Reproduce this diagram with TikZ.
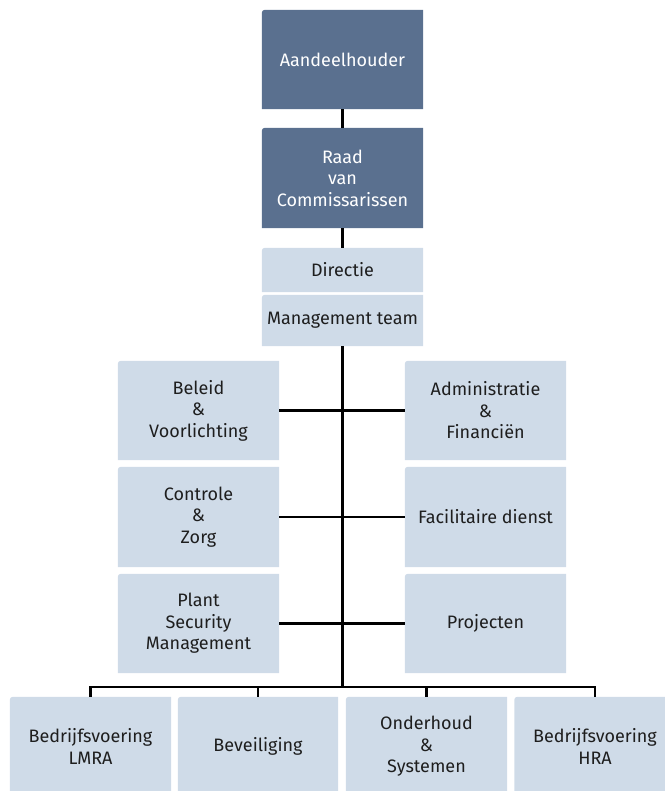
\documentclass[tikz,border=0pt]{standalone}
\usepackage{fontspec}
\setmainfont{Fira Sans}
\usetikzlibrary{backgrounds}
\definecolor{darkbox}{RGB}{90,112,143}
\definecolor{lightbox}{RGB}{207,219,232}
\definecolor{boxtext}{RGB}{30,30,30}

\begin{document}
\begin{tikzpicture}[x=1pt, y=-1pt,
    box/.style={minimum width=161pt, minimum height=99pt, inner sep=0pt, align=center, text=boxtext, font=\fontsize{18}{21.5}\selectfont},
    dark/.style={box, text=white},
    line/.style={line width=2.5pt}]
    \useasboundingbox (0,0) rectangle (664,791);
    \node (aandeel) at (342.5,59.5) [dark] {Aandeelhouder};
    \node (raad) at (342.5,178) [dark, minimum height=100pt] {Raad\\van\\Commissarissen};
    \node (directie) at (342.5,270) [box, minimum height=44pt] {Directie};
    \node (mt) at (342.5,320.5) [box, minimum height=51pt] {Management team};
    \node (beleid) at (198.5,410.5) [box] {Beleid\\\&\\Voorlichting};
    \node (admin) at (485.5,410.5) [box] {Administratie\\\&\\Financiën};
    \node (controle) at (198.5,517) [box, minimum height=100pt] {Controle\\\&\\Zorg};
    \node (facil) at (485.5,517) [box, minimum height=100pt] {Facilitaire dienst};
    \node (plant) at (198.5,623.5) [box] {Plant\\Security\\Management};
    \node (projecten) at (485.5,623.5) [box] {Projecten};
    \node (lmra) at (90.5,746.5) [box] {Bedrijfsvoering\\LMRA};
    \node (beveil) at (258,746.5) [box, minimum width=160pt] {Beveiliging};
    \node (onderhoud) at (426.5,746.5) [box] {Onderhoud\\\&\\Systemen};
    \node (hra) at (595,746.5) [box] {Bedrijfsvoering\\HRA};
    \coordinate (bus) at (342.5,687);
    \begin{scope}[on background layer]
    \foreach \n/\c in {aandeel/darkbox, raad/darkbox, directie/lightbox, mt/lightbox,
        beleid/lightbox, admin/lightbox, controle/lightbox, facil/lightbox, plant/lightbox,
        projecten/lightbox, lmra/lightbox, beveil/lightbox, onderhoud/lightbox, hra/lightbox}
        \fill [\c] (\n.south west) [rounded corners=3pt] -- (\n.north west) [sharp corners] -- (\n.north east) -- (\n.south east) -- cycle;
    \end{scope}
    \draw [line] (aandeel) -- (raad);
    \draw [line] (raad) -- (directie);
    \draw [line] (mt) -- (bus);
    \draw [line] (beleid) -- (admin);
    \draw [line] (controle) -- (facil);
    \draw [line] (plant) -- (projecten);
    \draw [line] (lmra.north) -- (lmra.north |- bus) -- (hra.north |- bus) -- (hra.north);
    \draw [line] (beveil.north) -- (beveil.north |- bus);
    \draw [line] (onderhoud.north) -- (onderhoud.north |- bus);
\end{tikzpicture}
\end{document}
